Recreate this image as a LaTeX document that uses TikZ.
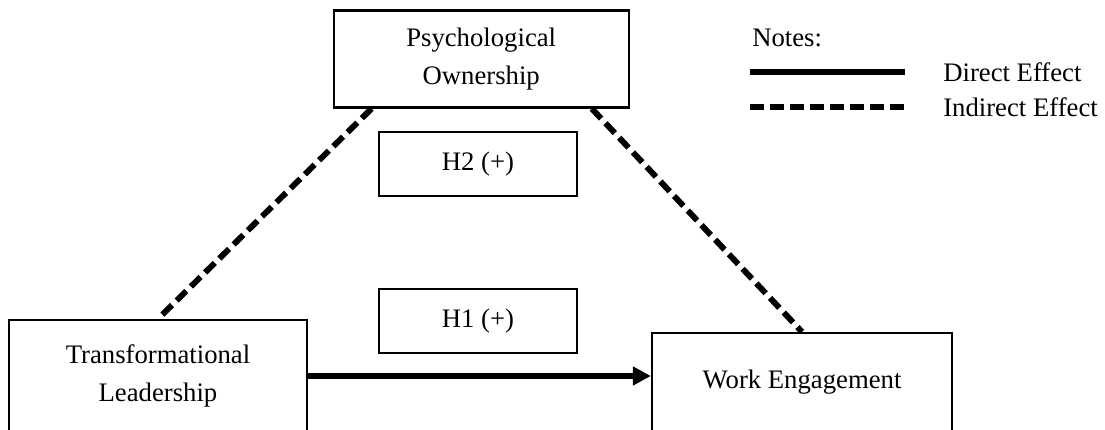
\documentclass[tikz,border=0pt]{standalone}
\usepackage{fontspec}
\setmainfont{Liberation Serif}
\usepackage{tikz}
\usetikzlibrary{arrows.meta, positioning, calc}

\begin{document}
\begin{tikzpicture}[
    >={Triangle[length=0.45cm, width=0.45cm]},
    var/.style={draw, line width=1.6pt, align=center, inner sep=0pt,
                font=\fontsize{19}{27}\selectfont},
    hyp/.style={draw, line width=1.6pt, minimum width=4.95cm,
                minimum height=1.6cm, font=\fontsize{19}{23}\selectfont},
    direct/.style={line width=4.2pt},
    indirect/.style={line width=4.2pt, dash pattern=on 0.34cm off 0.16cm},
    note/.style={font=\fontsize{19}{23}\selectfont, anchor=west, inner sep=0pt}
  ]
  \useasboundingbox (0,0) rectangle (27.625,10.725);
  \clip (0,0) rectangle (27.625,10.725);

  % Variables
  \node[var, minimum width=7.375cm, minimum height=2.425cm] (po) at (12.03, 9.25)
    {Psychological\\Ownership};
  \node[var, minimum width=7.45cm, minimum height=2.8cm] (tl) at (3.95, 1.325)
    {Transformational\\Leadership};
  \node[var, minimum width=7.5cm, minimum height=2.45cm] (we) at (20.05, 1.175)
    {Work Engagement};

  % Hypotheses
  \node[hyp] (h2) at (11.95, 6.625) {H2 (+)};
  \node[hyp] (h1) at (11.95, 2.7) {H1 (+)};

  % Paths
  \draw[direct, ->] (tl.east) -- (we.west |- tl.east);
  \draw[indirect] ($(po.south west)+(0.975,0)$) -- (tl.north);
  \draw[indirect] ($(po.south east)+(-0.95,0)$) -- (we.north);

  % Legend
  \node[note] (notes) at (18.8, 9.775) {Notes:};
  \coordinate (d0) at (18.75, 8.925);
  \coordinate (d1) at (22.625, 8.925);
  \coordinate (i0) at (18.75, 8.05);
  \coordinate (i1) at (22.625, 8.05);
  \draw[direct] (d0) -- (d1);
  \draw[indirect] (i0) -- (i1);
  \node[note] (dlab) at (23.575, 8.925) {Direct Effect};
  \node[note] (ilab) at (23.575, 8.05) {Indirect Effect};
\end{tikzpicture}
\end{document}
